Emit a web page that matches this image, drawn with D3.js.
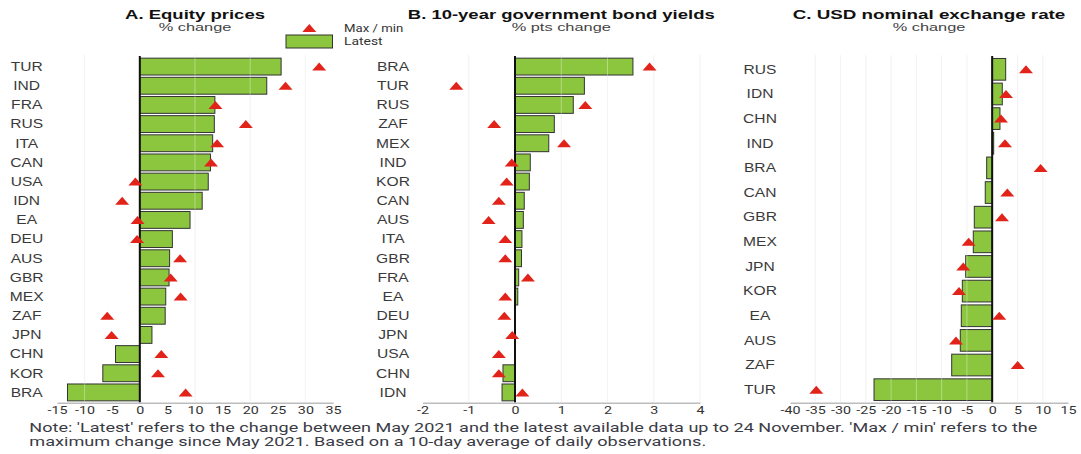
<!DOCTYPE html>
<html>
<head>
<meta charset="utf-8">
<script src="https://cdn.jsdelivr.net/npm/d3@7"></script>
<style>
  html, body { margin: 0; padding: 0; background: #fff; }
  svg { display: block; }
</style>
</head>
<body>
<svg id="chart" width="1081" height="454"></svg>
<script>
// ---------- Data ----------
const catsA   = ["TUR","IND","FRA","RUS","ITA","CAN","USA","IDN","EA","DEU","AUS","GBR","MEX","ZAF","JPN","CHN","KOR","BRA"];
const latestA = [25.6, 23.0, 13.6, 13.5, 13.2, 12.8, 12.4, 11.3, 9.1, 5.9, 5.4, 5.3, 4.7, 4.6, 2.2, -4.4, -6.7, -13.1];
const maxminA = [32.5, 26.4, 13.7, 19.2, 14.0, 12.9, -0.8, -3.2, -0.4, -0.5, 7.3, 5.6, 7.4, -5.9, -5.1, 3.9, 3.3, 8.3];
const ticksA  = [-15, -10, -5, 0, 5, 10, 15, 20, 25, 30, 35];
const gridA   = [-10, 10, 20, 30];

const catsB   = ["BRA","TUR","RUS","ZAF","MEX","IND","KOR","CAN","AUS","ITA","GBR","FRA","EA","DEU","JPN","USA","CHN","IDN"];
const latestB = [2.55, 1.50, 1.26, 0.85, 0.73, 0.33, 0.31, 0.20, 0.18, 0.15, 0.14, 0.08, 0.06, 0.01, 0.005, -0.01, -0.26, -0.28];
const maxminB = [2.91, -1.27, 1.52, -0.45, 1.06, -0.07, -0.18, -0.35, -0.57, -0.21, -0.21, 0.28, -0.21, -0.23, -0.06, -0.35, -0.35, 0.16];
const ticksB  = [-2, -1, 0, 1, 2, 3, 4];
const gridB   = [-1, 1, 2, 3, 4];

const catsC   = ["RUS","IDN","CHN","IND","BRA","CAN","GBR","MEX","JPN","KOR","EA","AUS","ZAF","TUR"];
const latestC = [2.67, 2.0, 1.54, 0.3, -1.09, -1.37, -3.54, -3.74, -5.24, -5.91, -6.11, -6.31, -8.01, -23.38];
const maxminC = [6.69, 2.73, 1.74, 2.53, 9.59, 2.99, 1.94, -4.65, -5.72, -6.57, 1.40, -7.16, 5.04, -34.8];
const ticksC  = [-40, -35, -30, -25, -20, -15, -10, -5, 0, 5, 10, 15];
const gridC   = [-35, -30, -25, -20, -15, -10, -5, 5, 10];

const titles    = ["A. Equity prices", "B. 10-year government bond yields", "C. USD nominal exchange rate"];
const subtitles = ["% change", "% pts change", "% change"];
const legendLabels = ["Max / min", "Latest"];
const noteLines = [
  "Note: 'Latest' refers to the change between May 2021 and the latest available data up to 24 November. 'Max / min' refers to the",
  "maximum change since May 2021. Based on a 10-day average of daily observations."
];

// ---------- Style ----------
const SX = 1.3;               // horizontal text stretch of the reference
const GREEN = "#8cc63f";
const RED = "#e2231a";
const TEXT = "#333333";
const SANS = "'Liberation Sans', Arial, sans-serif";
const ROBOTO = "Roboto, 'Liberation Sans', sans-serif";

// widths of text blocks as measured on the reference picture
const titleW    = [140, 307, 273];
const subtitleW = [72.7, 99.3, 72.7];
const noteW     = [1008.7, 677];
const legendW   = [59.3, 38.7];

const svg = d3.select("#chart");

function addText(g, x, y, str, opts) {
  const t = g.append("text")
    .attr("text-anchor", opts.anchor || "start")
    .attr("font-family", opts.family || SANS)
    .attr("font-size", opts.size || 12)
    .attr("font-weight", opts.weight || "normal")
    .attr("fill", opts.fill || TEXT)
    .text(str);
  let s = SX;
  if (opts.width) {
    const w = t.node().getComputedTextLength();
    if (w > 0) s = opts.width / w;
  }
  t.attr("transform", `translate(${x},${y}) scale(${s},1)`);
  return t;
}

const yTop = 57, yBot = 402;

const panels = [
  { cats: catsA, latest: latestA, maxmin: maxminA, ticks: ticksA, grid: gridA, domain: [-15, 35], range: [57, 333], labelX: 26.7 },
  { cats: catsB, latest: latestB, maxmin: maxminB, ticks: ticksB, grid: gridB, domain: [-2, 4],   range: [422.5, 700], labelX: 393 },
  { cats: catsC, latest: latestC, maxmin: maxminC, ticks: ticksC, grid: gridC, domain: [-40, 15], range: [790, 1068], labelX: 760 }
];

const triW = 14, triH = 8;
const triPath = (cx, cy) => `M${cx - triW/2},${cy + triH/2} L${cx + triW/2},${cy + triH/2} L${cx},${cy - triH/2} Z`;

panels.forEach((p, i) => {
  const g = svg.append("g");
  const x = d3.scaleLinear().domain(p.domain).range(p.range);
  const y = d3.scaleBand().domain(p.cats).range([yTop, yBot]).paddingInner(0.12).paddingOuter(0.06);

  // gridlines under bars
  g.append("g").selectAll("line").data(p.grid).join("line")
    .attr("x1", d => x(d)).attr("x2", d => x(d))
    .attr("y1", 55).attr("y2", 402)
    .attr("stroke", "#eeeeee").attr("stroke-width", 1);

  // bars
  g.append("g").selectAll("rect").data(p.cats).join("rect")
    .attr("x", (d, k) => Math.min(x(0), x(p.latest[k])))
    .attr("y", d => y(d))
    .attr("width", (d, k) => Math.abs(x(p.latest[k]) - x(0)))
    .attr("height", y.bandwidth())
    .attr("fill", GREEN)
    .attr("stroke", "#333333")
    .attr("stroke-width", 1);

  // gridlines over bars (faint, lighter)
  g.append("g").selectAll("line").data(p.grid).join("line")
    .attr("x1", d => x(d)).attr("x2", d => x(d))
    .attr("y1", 55).attr("y2", 402)
    .attr("stroke", "#ffffff").attr("stroke-opacity", 0.35).attr("stroke-width", 1);

  // zero line
  g.append("line")
    .attr("x1", x(0)).attr("x2", x(0))
    .attr("y1", 56).attr("y2", 402.5)
    .attr("stroke", "#111").attr("stroke-width", 2);

  // max/min triangles
  g.append("g").selectAll("path").data(p.cats).join("path")
    .attr("d", (d, k) => triPath(x(p.maxmin[k]), y(d) + y.bandwidth() / 2))
    .attr("fill", RED);

  // category labels
  const lg = g.append("g");
  p.cats.forEach(c => {
    addText(lg, p.labelX, y(c) + y.bandwidth() / 2 + 4.3, c, { anchor: "middle", size: 12, fill: "#3a3a3a" });
  });

  // x axis
  const ax = g.append("g")
    .attr("transform", `translate(0,${402.7})`)
    .call(d3.axisBottom(x).tickValues(p.ticks).tickFormat(d => String(d)).tickSize(0).tickSizeOuter(0).tickPadding(3));
  ax.select(".domain").attr("stroke", "#bdbdbd").attr("stroke-width", 1.5);
  ax.selectAll(".tick text")
    .attr("font-family", ROBOTO)
    .attr("font-size", 11)
    .attr("fill", TEXT)
    .attr("transform", `scale(${SX},1)`);

  // titles
  const cx = (p.range[0] + p.range[1]) / 2;
  addText(g, cx, 18.5, titles[i], { anchor: "middle", size: 13, weight: "bold", fill: "#111", width: titleW[i] });
  addText(g, cx, 30.5, subtitles[i], { anchor: "middle", size: 11.5, fill: "#444", width: subtitleW[i] });
});

// legend
const leg = svg.append("g");
leg.append("path").attr("d", triPath(309.3, 28)).attr("fill", RED);
leg.append("rect").attr("x", 286).attr("y", 35).attr("width", 46.5).attr("height", 13)
  .attr("fill", GREEN).attr("stroke", "#333").attr("stroke-width", 1);
addText(leg, 344, 31.5, legendLabels[0], { size: 10, family: ROBOTO, fill: "#333", width: legendW[0] });
addText(leg, 344, 45, legendLabels[1], { size: 10, family: ROBOTO, fill: "#333", width: legendW[1] });

// note
const ng = svg.append("g");
addText(ng, 29.3, 431.7, noteLines[0], { size: 12, family: ROBOTO, fill: "#3b3b45", width: noteW[0] });
addText(ng, 29.3, 445.5, noteLines[1], { size: 12, family: ROBOTO, fill: "#3b3b45", width: noteW[1] });
</script>
</body>
</html>
